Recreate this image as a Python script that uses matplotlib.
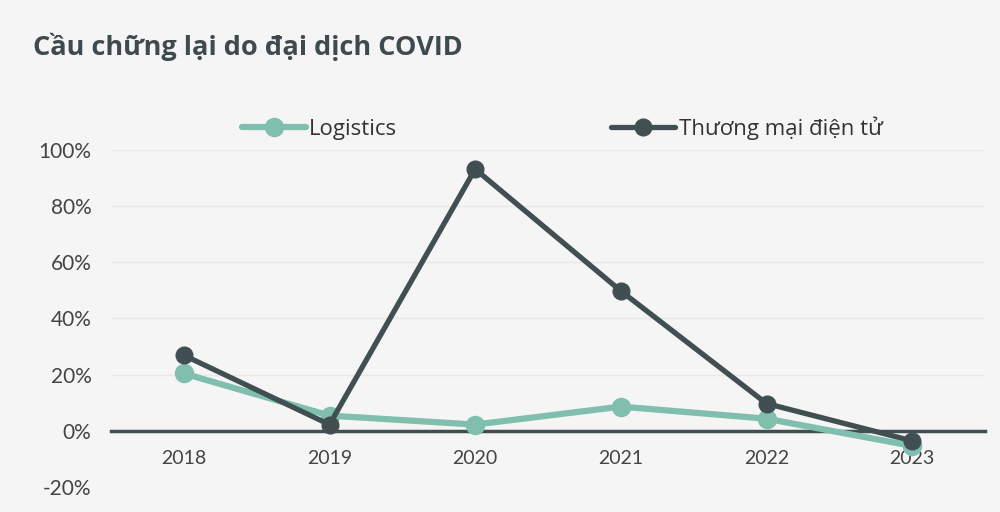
import matplotlib.pyplot as plt
from matplotlib.ticker import FuncFormatter

# Dữ liệu
years = ["2018", "2019", "2020", "2021", "2022", "2023"]
logistics = [0.204, 0.054, 0.022, 0.086, 0.043, -0.054]
ecommerce = [0.269, 0.022, 0.932, 0.498, 0.097, -0.036]
yticks = [-0.2, 0.0, 0.2, 0.4, 0.6, 0.8, 1.0]

teal = "#80bfad"
dark = "#414f53"
bg = "#f5f5f5"

fig = plt.figure(figsize=(10, 5.12), dpi=100, facecolor=bg)
ax = fig.add_axes([0.111, 0.049, 0.874, 0.658], facecolor=bg)

x = list(range(len(years)))
ax.plot(x, logistics, color=teal, lw=4.5, marker="o", ms=13, label="Logistics",
        solid_capstyle="round", zorder=3)
ax.plot(x, ecommerce, color=dark, lw=3.8, marker="o", ms=12, label="Thương mại điện tử",
        solid_capstyle="round", zorder=4)

ax.set_xlim(-0.5, 5.5)
ax.set_ylim(-0.2, 1.0)
ax.set_yticks(yticks)
ax.yaxis.set_major_formatter(FuncFormatter(lambda v, p: f"{v*100:.0f}%"))
ax.set_xticks(x)
ax.set_xticklabels(years)
ax.grid(axis="y", color="#e8e8e8", lw=1)
ax.set_axisbelow(True)

for s in ["top", "right", "left"]:
    ax.spines[s].set_visible(False)
ax.spines["bottom"].set_position(("data", 0))
ax.spines["bottom"].set_color(dark)
ax.spines["bottom"].set_linewidth(2.5)
ax.spines["bottom"].set_zorder(2)
ax.tick_params(length=0, colors="#444444", labelsize=14)
ax.tick_params(axis="y", labelsize=15, pad=14)
ax.tick_params(axis="x", pad=14)
for lab in ax.get_xticklabels() + ax.get_yticklabels():
    lab.set_fontfamily("Lato")

fig.text(0.033, 0.908, "Cầu chững lại do đại dịch COVID", fontsize=19.5, fontweight="bold",
         color="#3e4a4d", fontfamily="Open Sans", va="center")

leg = ax.legend(ncol=2, loc="center", bbox_to_anchor=(0.516, 1.065), frameon=False,
                columnspacing=9.6, handlelength=2.9, handletextpad=0.15,
                prop={"family": "Open Sans", "size": 16})
for t in leg.get_texts():
    t.set_color("#333333")

fig.savefig("out.png", dpi=100, facecolor=bg)
